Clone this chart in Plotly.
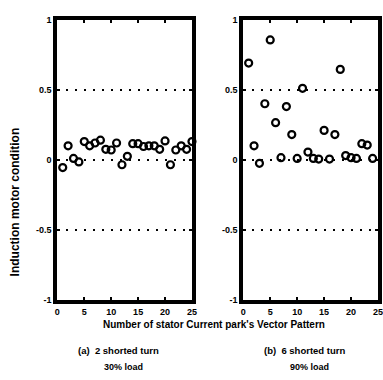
import plotly.graph_objects as go

W, H = 383, 380

pattern_a = list(range(1, 26))
condition_a = [-0.055, 0.10, 0.01, -0.015, 0.13, 0.10, 0.12, 0.14, 0.075, 0.07,
               0.12, -0.035, 0.025, 0.115, 0.115, 0.095, 0.10, 0.10, 0.075, 0.135,
               -0.035, 0.07, 0.10, 0.075, 0.13]

pattern_b = list(range(1, 25))
condition_b = [0.69, 0.10, -0.025, 0.40, 0.855, 0.265, 0.015, 0.38, 0.18, 0.01,
               0.51, 0.055, 0.01, 0.005, 0.21, 0.005, 0.18, 0.645, 0.03, 0.015,
               0.01, 0.115, 0.105, 0.01]

x_ticks = [0, 5, 10, 15, 20, 25]
y_ticks = [-1, -0.5, 0, 0.5, 1]
y_ticklabels = ["-1", "-0.5", "0", "0.5", "1"]

ylabel = "Induction motor condition"
xlabel = "Number of stator Current park's Vector Pattern"
caption_a = ["(a)  2 shorted turn", "30% load"]
caption_b = ["(b)  6 shorted turn", "90% load"]

def px(x):
    return x / W

def py(y):
    return 1 - y / H

fig = go.Figure()
mk = dict(symbol="circle-open", size=7, color="black", line=dict(width=2.2, color="black"))
fig.add_trace(go.Scatter(x=pattern_a, y=condition_a, mode="markers", marker=mk,
                         xaxis="x", yaxis="y", cliponaxis=False, showlegend=False))
fig.add_trace(go.Scatter(x=pattern_b, y=condition_b, mode="markers", marker=mk,
                         xaxis="x2", yaxis="y2", cliponaxis=False, showlegend=False))

font = dict(family="Liberation Sans", size=9, color="black", weight="bold")
xcommon = dict(range=[0, 25], tickvals=x_ticks, ticks="inside", ticklen=3, tickwidth=1.5,
               tickcolor="black", showline=True, linewidth=4, linecolor="black",
               mirror="ticks", showgrid=False, zeroline=False, tickfont=font,
               ticklabeloverflow="allow")
ycommon = dict(range=[-1, 1], tickvals=y_ticks, ticktext=y_ticklabels, ticks="inside",
               ticklen=3, tickwidth=1.5, tickcolor="black", showline=True, linewidth=4,
               linecolor="black", mirror="ticks", showgrid=True, gridcolor="black",
               gridwidth=1.5, griddash="2px,7px", zeroline=False, tickfont=font)

fig.update_layout(
    width=W, height=H, margin=dict(l=0, r=0, t=0, b=0),
    paper_bgcolor="white", plot_bgcolor="white",
    xaxis=dict(domain=[px(55.5), px(193)], anchor="y", **xcommon),
    yaxis=dict(domain=[py(303), py(15)], anchor="x", **ycommon),
    xaxis2=dict(domain=[px(245.4), 1.0], anchor="y2", **xcommon),
    yaxis2=dict(domain=[py(303), py(15)], anchor="x2", **ycommon),
)

ann = []
def add(text, x, y, size, angle=0, bold=True):
    ann.append(dict(text=text, x=px(x), y=py(y), xref="paper", yref="paper",
                    xanchor="center", yanchor="middle", textangle=angle, showarrow=False,
                    font=dict(family="Liberation Sans", size=size, color="black",
                              weight="bold" if bold else "normal")))

add(ylabel, 12, 202, 12, angle=-90)
add(xlabel, 216, 328, 10)
for cap, cx in ((caption_a, 118), (caption_b, 308)):
    add(cap[0], cx, 355, 9.5)
    add(cap[1], cx + 5, 372, 9)
fig.update_layout(annotations=ann)

fig.write_html("out.html")
